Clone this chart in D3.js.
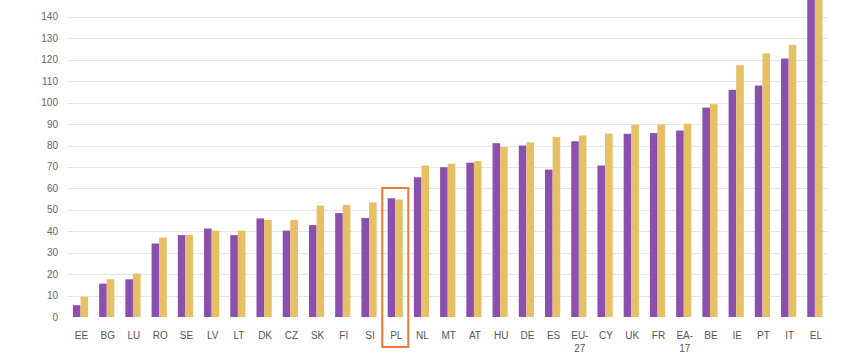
<!DOCTYPE html>
<html>
<head>
<meta charset="utf-8">
<script src="https://cdn.jsdelivr.net/npm/d3@7/dist/d3.min.js"></script>
<style>
  html, body { margin: 0; padding: 0; background: #fff; }
  svg { display: block; }
</style>
</head>
<body>
<svg id="chart" width="850" height="360"></svg>
<script>
const categories = ["EE","BG","LU","RO","SE","LV","LT","DK","CZ","SK","FI","SI","PL","NL","MT","AT","HU","DE","ES","EU-27","CY","UK","FR","EA-17","BE","IE","PT","IT","EL"];
const series1 = [5.5,15.6,17.6,34.3,38.2,41.3,38.2,46,40.3,42.9,48.5,46.2,55.4,65.2,69.9,72,81.1,80,68.8,82,70.7,85.5,85.8,87,97.7,106,108,120.6,170];
const series2 = [9.4,17.6,20.3,37.1,38.2,40.3,40.3,45.3,45.3,52,52.3,53.5,54.8,70.7,71.5,72.7,79.3,81.5,84,84.7,85.6,89.7,89.9,90.2,99.3,117.5,123,126.9,170];
const yTicks = [0,10,20,30,40,50,60,70,80,90,100,110,120,130,140,150];
const highlighted = "PL";

const svg = d3.select("#chart");
const x0 = 67.4, x1 = 828;
const y = d3.scaleLinear().domain([0, 150]).range([317, 317 - 150 * 2.143]);
const x = d3.scaleBand().domain(categories).range([x0, x1]).paddingInner(0.42).paddingOuter(0.21);
const sub = d3.scaleBand().domain(["a","b"]).range([0, x.bandwidth()]);

// gridlines
svg.append("g").selectAll("line").data(yTicks.filter(t => t > 0)).join("line")
  .attr("x1", x0).attr("x2", x1)
  .attr("y1", d => Math.round(y(d)) + 0.5).attr("y2", d => Math.round(y(d)) + 0.5)
  .attr("stroke", "#e4e4e4").attr("stroke-width", 1.2);

// y labels
svg.append("g").selectAll("text").data(yTicks).join("text")
  .attr("x", 58).attr("y", d => y(d)).attr("dy", "0.35em")
  .attr("text-anchor", "end")
  .attr("font-family", "Liberation Sans, Arial, sans-serif")
  .attr("font-size", 10).attr("fill", "#666")
  .text(d => d);

const clip = svg.append("clipPath").attr("id", "plotclip").append("rect")
  .attr("x", 0).attr("y", 0).attr("width", 850).attr("height", 360);

const g = svg.append("g").attr("clip-path", "url(#plotclip)");
g.selectAll("rect.s1").data(categories).join("rect").attr("class", "s1")
  .attr("x", d => x(d) + sub("a"))
  .attr("width", sub.bandwidth())
  .attr("y", (d, i) => y(series1[i]))
  .attr("height", (d, i) => y(0) - y(series1[i]))
  .attr("fill", "#8b4fae");
g.selectAll("rect.s2").data(categories).join("rect").attr("class", "s2")
  .attr("x", d => x(d) + sub("b"))
  .attr("width", sub.bandwidth())
  .attr("y", (d, i) => y(series2[i]))
  .attr("height", (d, i) => y(0) - y(series2[i]))
  .attr("fill", "#e7c066");

// x labels
const xl = svg.append("g").selectAll("text").data(categories).join("text")
  .attr("x", d => x(d) + x.bandwidth() / 2 + 1)
  .attr("y", 339)
  .attr("text-anchor", "middle")
  .attr("font-family", "Liberation Sans, Arial, sans-serif")
  .attr("font-size", 10).attr("fill", "#555");
xl.each(function(d) {
  const t = d3.select(this);
  const parts = d.includes("-") ? [d.split("-")[0] + "-", d.split("-")[1]] : [d];
  parts.forEach((p, i) => {
    t.append("tspan").attr("x", x(d) + x.bandwidth() / 2 + 1).attr("dy", i === 0 ? 0 : 13).text(p);
  });
});

// highlight box
const hx = x(highlighted) + x.bandwidth() / 2;
svg.append("rect")
  .attr("x", hx - 13).attr("y", 188)
  .attr("width", 26).attr("height", 159)
  .attr("fill", "none").attr("stroke", "#ee7b37").attr("stroke-width", 2);
</script>
</body>
</html>
